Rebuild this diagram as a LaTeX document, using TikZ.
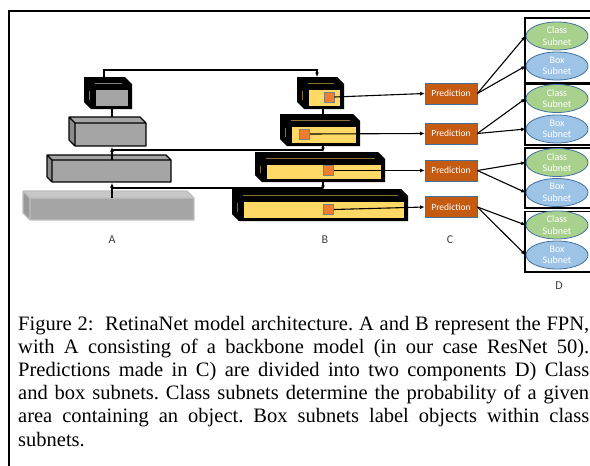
\documentclass[tikz,border=0pt]{standalone}
\usepackage{fontspec}
\setmainfont{Liberation Serif}
\newfontfamily\labfont{Carlito}
\usetikzlibrary{shapes.geometric,arrows.meta}
\definecolor{fpnyellow}{HTML}{FFD966}
\definecolor{sqorange}{HTML}{ED7D31}
\definecolor{predorange}{HTML}{C55A11}
\definecolor{officeblue}{HTML}{41719C}
\definecolor{classgreen}{HTML}{A9D18E}
\definecolor{boxblue}{HTML}{9DC3E6}
\definecolor{agray}{HTML}{A5A5A5}
\definecolor{decorgold}{HTML}{8A7330}
\definecolor{labgray}{HTML}{404040}

% heavy 3D box: outer X1 Y1 X2 Y2, front fill, decor colour
\newcommand{\heavybox}[6]{%
  \fill[black] (#1,#2) -- (#3-7,#2) -- (#3,#2+7) -- (#3,#4) -- (#1+7,#4) -- (#1,#4-7) -- cycle;
  \draw[black, line width=0.8, fill=#5] (#1+11,#2+12) rectangle (#3-4,#4-3);
  \draw[#6, line width=0.8] (#1+11,#2+6) -- (#3-10,#2+6);
  \draw[#6, line width=0.8] (#1+5,#2+14) -- (#1+5,#4-9);
}
% light 3D box: front x1 y1 x2 y2, depth, front fill, top fill, side fill, outline
\newcommand{\lightbox}[9]{%
  \fill[#6] (#1,#2) rectangle (#3,#4);
  \fill[#7] (#1-#5,#2-#5) -- (#3-#5,#2-#5) -- (#3,#2) -- (#1,#2) -- cycle;
  \fill[#8] (#1-#5,#2-#5) -- (#1,#2) -- (#1,#4) -- (#1-#5,#4-#5) -- cycle;
  \draw[#9, line width=1.2, line join=round] (#1-#5,#2-#5) -- (#3-#5,#2-#5) -- (#3,#2) -- (#3,#4) -- (#1,#4) -- (#1-#5,#4-#5) -- cycle
     (#1-#5,#2-#5) -- (#1,#2) -- (#3,#2) (#1,#2) -- (#1,#4);
}

\tikzset{
  conn/.style={draw=black, line width=1.1},
  tip/.style={-{Latex[length=4.5pt,width=4pt]}},
  sq/.style={draw=gray, line width=0.8, fill=sqorange, minimum width=10pt, minimum height=10pt, inner sep=0pt},
  pred/.style={draw=officeblue, line width=0.7, fill=predorange, minimum width=52pt, minimum height=21pt, inner sep=0pt,
     text=white, font=\labfont\fontsize{9.5}{10}\selectfont},
  subnet/.style={ellipse, draw=officeblue, line width=0.8, minimum width=62pt, minimum height=28pt, inner sep=0pt,
     text=white, align=center, font=\labfont\fontsize{10}{11.5}\selectfont},
  classnet/.style={subnet, fill=classgreen},
  boxnet/.style={subnet, fill=boxblue},
  grp/.style={draw=black, line width=1.2},
  lab/.style={text=labgray, font=\labfont\fontsize{12}{12}\selectfont, inner sep=0pt},
}

\begin{document}
\begin{tikzpicture}[x=1pt,y=-1pt]
\useasboundingbox (0,0) rectangle (590,466);
\clip (0,0) rectangle (590,466);
\fill[white] (0,0) rectangle (590,466);

% outer frame
\draw[black, line width=2] (9,11) rectangle (640,520);

% ---------- column A ----------
\lightbox{30}{198}{194}{220}{7}{agray}{black!22}{black!40}{black!25}
\lightbox{52}{160}{171}{182}{5}{agray}{agray}{black!45}{black}
\lightbox{75}{123}{146}{146}{6}{agray}{agray}{black!45}{black}
\heavybox{84}{77}{132}{109}{agray}{gray}

% A connectors
\coordinate (a4top) at (112,198);
\coordinate (a3bot) at (112,183);
\coordinate (a3top) at (112,160);
\coordinate (a2bot) at (112,147);
\coordinate (a2top) at (112,117);
\coordinate (a1bot) at (112,109);
\coordinate (a1top) at (104,77);
\coordinate (topjoin) at (104,70);
\coordinate (j4) at (112,188);
\coordinate (j3) at (112,150);

\draw[conn,tip] (a4top) -- (a3bot);
\draw[conn,tip] (a3top) -- (a2bot);
\draw[conn] (a2top) -- (a1bot);

% ---------- column B ----------
\coordinate (b1top) at (317,77);
\coordinate (b1bot) at (323,109);
\coordinate (b2top) at (323,114);
\coordinate (b2bot) at (323,145);
\coordinate (b3top) at (323,152);
\coordinate (b3bot) at (323,181);
\coordinate (b4top) at (323,190);
\coordinate (k3) at (323,150);
\coordinate (k4) at (323,188);

\draw[conn] (j3) -- (k3);
\draw[conn] (j4) -- (k4);
\draw[conn,tip] (a1top) -- (topjoin) -| (b1top);

\heavybox{297}{77}{344}{109}{fpnyellow}{decorgold}
\heavybox{280}{114}{360}{146}{fpnyellow}{decorgold}
\heavybox{255}{152}{385}{182}{fpnyellow}{decorgold}
\heavybox{232}{189}{408}{221}{fpnyellow}{decorgold}

\draw[conn] (b1bot) -- (b2top);
\draw[conn,tip] (b2bot) -- (b3top);
\draw[conn,tip] (b3bot) -- (b4top);

\node[sq] (o1) at (329,97) {};
\node[sq] (o2) at (304.5,134) {};
\node[sq] (o3) at (328.5,170.5) {};
\node[sq] (o4) at (328.5,209.5) {};

% ---------- column C ----------
\node[pred] (p1) at (451,93.5) {Prediction};
\node[pred] (p2) at (451,133.5) {Prediction};
\node[pred] (p3) at (451,170.5) {Prediction};
\node[pred] (p4) at (451,207) {Prediction};

\draw[conn,tip] (o1.east) -- (p1.west);
\draw[conn,tip] (o2.east) -- (p2.west);
\draw[conn,tip] (o3.east) -- (p3.west);
\draw[conn,tip] (o4.east) -- (p4.west);

% ---------- column D ----------
\draw[grp] (525,18) rectangle (640,83);
\draw[grp] (525,84.5) rectangle (640,145);
\draw[grp] (525,148) rectangle (640,208);
\draw[grp] (525,211.5) rectangle (640,272);

\node[classnet] (c1) at (557,36) {Class\\Subnet};
\node[boxnet]   (x1) at (557,66) {Box\\Subnet};
\node[classnet] (c2) at (557,98.5) {Class\\Subnet};
\node[boxnet]   (x2) at (557,129) {Box\\Subnet};
\node[classnet] (c3) at (557,162.5) {Class\\Subnet};
\node[boxnet]   (x3) at (557,192.5) {Box\\Subnet};
\node[classnet] (c4) at (557,225) {Class\\Subnet};
\node[boxnet]   (x4) at (557,255) {Box\\Subnet};

\draw[conn,tip] (p1.east) -- (c1.west);
\draw[conn,tip] (p1.east) -- (x1.west);
\draw[conn,tip] (p2.east) -- (c2.west);
\draw[conn,tip] (p2.east) -- (x2.west);
\draw[conn,tip] (p3.east) -- (c3.west);
\draw[conn,tip] (p3.east) -- (x3.west);
\draw[conn,tip] (p4.east) -- (c4.west);
\draw[conn,tip] (p4.east) -- (x4.west);

% ---------- labels ----------
\node[lab] (la) at (112,240) {A};
\node[lab] (lb) at (325,240) {B};
\node[lab] (lc) at (450,240) {C};
\node[lab] (ld) at (559,286) {D};

% ---------- caption ----------
\node[anchor=base west, inner sep=0pt] (cap) at (18,330) {\parbox[t]{571pt}{\fontsize{20.5}{23.2}\selectfont
\tolerance=10000\hyphenpenalty=10000\frenchspacing
Figure 2:~ RetinaNet model architecture. A and B represent the FPN,\linebreak
with A consisting of a backbone model (in our case ResNet 50).\linebreak
Predictions made in C) are divided into two components D) Class\linebreak
and box subnets. Class subnets determine the probability of a given\linebreak
area containing an object. Box subnets label objects within class\linebreak
subnets.}};
\end{tikzpicture}
\end{document}
